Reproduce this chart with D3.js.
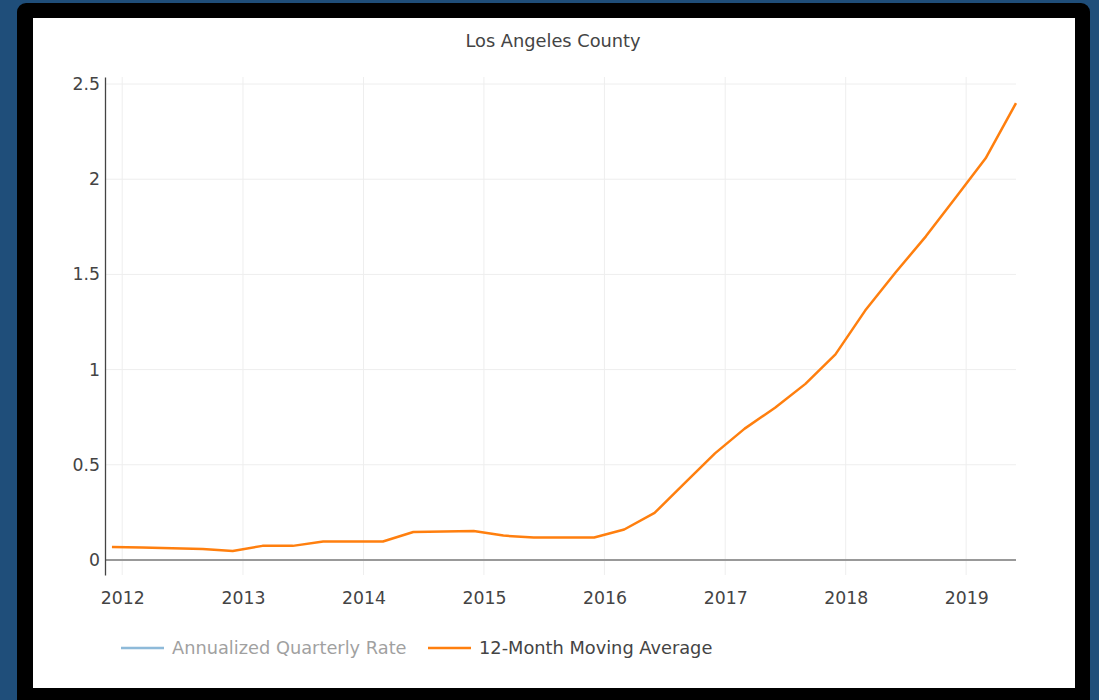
<!DOCTYPE html>
<html>
<head>
<meta charset="utf-8">
<script src="https://cdn.jsdelivr.net/npm/d3@7"></script>
<style>
  body { margin: 0; background: #1f4e7a; }
  svg { display: block; }
  text { font-family: "DejaVu Sans", Verdana, sans-serif; fill: #444; }
</style>
</head>
<body>
<svg id="chart" width="1099" height="700"></svg>
<script>
// quarterly dates (year, month) and 12-month moving average values
var dates = ["2011-12", "2012-03", "2012-06", "2012-09", "2012-12",
             "2013-03", "2013-06", "2013-09", "2013-12",
             "2014-03", "2014-06", "2014-09", "2014-12",
             "2015-03", "2015-06", "2015-09", "2015-12",
             "2016-03", "2016-06", "2016-09", "2016-12",
             "2017-03", "2017-06", "2017-09", "2017-12",
             "2018-03", "2018-06", "2018-09", "2018-12",
             "2019-03", "2019-06"];
var movingAvg = [0.068, 0.065, 0.062, 0.058, 0.047,
                 0.074, 0.074, 0.097, 0.097,
                 0.097, 0.147, 0.150, 0.152,
                 0.128, 0.118, 0.118, 0.118,
                 0.160, 0.247, 0.405, 0.560,
                 0.690, 0.800, 0.925, 1.080,
                 1.310, 1.510, 1.700, 1.905,
                 2.110, 2.400];
var yTicks = [0, 0.5, 1, 1.5, 2, 2.5];
var xTicks = [2012, 2013, 2014, 2015, 2016, 2017, 2018, 2019];
var seriesNames = ["Annualized Quarterly Rate", "12-Month Moving Average"];

var parse = d3.timeParse("%Y-%m");
var data = dates.map(function(d, i) { return {date: parse(d), v: movingAvg[i]}; });

var svg = d3.select("#chart");

// frame
svg.append("rect").attr("x", 17).attr("y", 3).attr("width", 1073).attr("height", 720)
    .attr("rx", 9).style("fill", "#000");
svg.append("rect").attr("x", 33).attr("y", 18).attr("width", 1042).attr("height", 670)
    .style("fill", "#fff");

var plot = {left: 106, right: 1016, top: 77, bottom: 575};

var x = d3.scaleTime()
    .domain([new Date(2011, 10, 13), new Date(2019, 5, 1)])
    .range([plot.left, plot.right]);

var y = d3.scaleLinear()
    .domain([-0.079, 2.537])
    .range([plot.bottom, plot.top]);

// grid
svg.append("g").selectAll("line")
    .data(xTicks)
  .enter().append("line")
    .attr("x1", function(d) { return x(new Date(d, 0, 1)); })
    .attr("x2", function(d) { return x(new Date(d, 0, 1)); })
    .attr("y1", plot.top).attr("y2", plot.bottom)
    .style("stroke", "#eee").style("stroke-width", 1);

svg.append("g").selectAll("line")
    .data(yTicks.slice(1))
  .enter().append("line")
    .attr("x1", plot.left).attr("x2", plot.right)
    .attr("y1", function(d) { return y(d); })
    .attr("y2", function(d) { return y(d); })
    .style("stroke", "#eee").style("stroke-width", 1);

// zero line
svg.append("line")
    .attr("x1", plot.left).attr("x2", plot.right)
    .attr("y1", y(0)).attr("y2", y(0))
    .style("stroke", "#999").style("stroke-width", 2);

// y axis
var yAxis = svg.append("g")
    .attr("transform", "translate(" + (plot.left - 1) + ",0)")
    .call(d3.axisLeft(y).tickValues(yTicks).tickSize(0).tickPadding(5)
      .tickFormat(function(d) { return d; }));
yAxis.select(".domain").style("stroke", "#444").style("stroke-width", 1.3);
yAxis.selectAll("text").style("font-size", "17.3px")
    .style("font-family", "'DejaVu Sans', Verdana, sans-serif").style("fill", "#444");

// x axis labels
var xAxis = svg.append("g")
    .attr("transform", "translate(0," + (plot.bottom + 13) + ")")
    .call(d3.axisBottom(x)
      .tickValues(xTicks.map(function(d) { return new Date(d, 0, 1); }))
      .tickSize(0).tickPadding(4)
      .tickFormat(d3.timeFormat("%Y")));
xAxis.select(".domain").remove();
xAxis.selectAll("text").style("font-size", "17.3px")
    .style("font-family", "'DejaVu Sans', Verdana, sans-serif").style("fill", "#444");

// line
var line = d3.line()
    .x(function(d) { return x(d.date); })
    .y(function(d) { return y(d.v); });

svg.append("path")
    .datum(data)
    .attr("d", line)
    .style("fill", "none")
    .style("stroke", "#ff7f0e")
    .style("stroke-width", 2.5)
    .style("stroke-linejoin", "round");

// title
svg.append("text")
    .attr("x", 553).attr("y", 47)
    .attr("text-anchor", "middle")
    .style("font-size", "17.8px")
    .text("Los Angeles County");

// legend
var legend = svg.append("g").attr("transform", "translate(121,648)");
var legendX = [0, 307];
var legendColors = ["#1f77b4", "#ff7f0e"];
var legendOpacity = [0.5, 1];
seriesNames.forEach(function(name, i) {
  var g = legend.append("g")
      .attr("transform", "translate(" + legendX[i] + ",0)")
      .style("opacity", legendOpacity[i]);
  g.append("line").attr("x1", 0).attr("x2", 43).attr("y1", 0).attr("y2", 0)
      .style("stroke", legendColors[i]).style("stroke-width", 2.5);
  g.append("text").attr("x", 51).attr("y", 6)
      .style("font-size", "17.8px")
      .text(name);
});
</script>
</body>
</html>
